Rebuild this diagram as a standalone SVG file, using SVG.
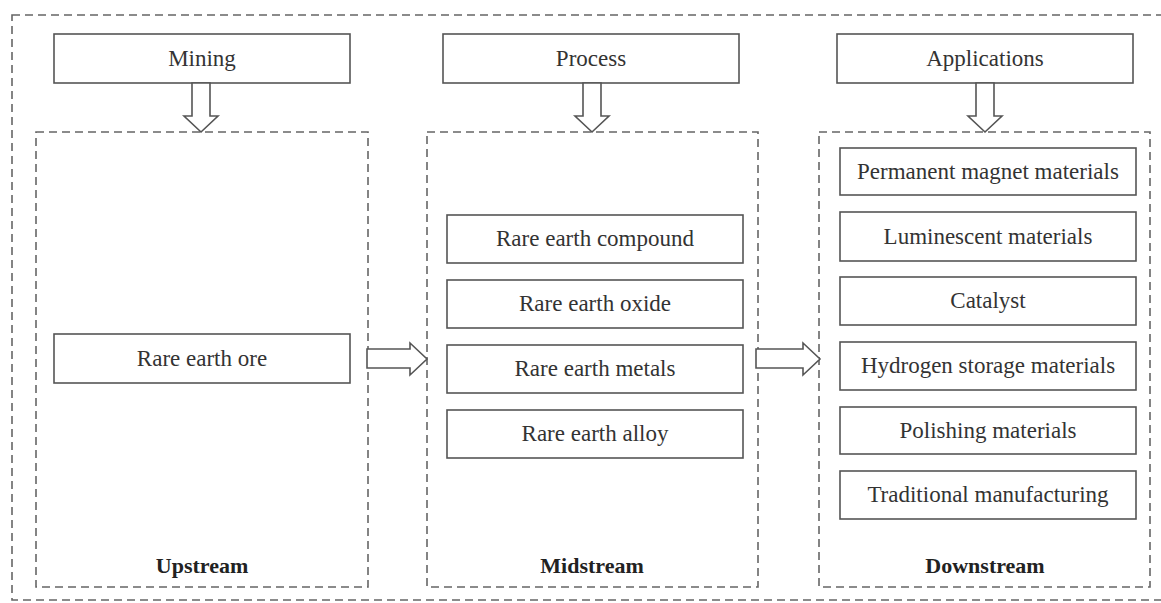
<svg xmlns="http://www.w3.org/2000/svg" width="1161" height="603" viewBox="0 0 1161 603">
<style>
.box{fill:#fff;stroke:#555;stroke-width:1.6}
.dash{fill:none;stroke:#666;stroke-width:1.6;stroke-dasharray:8 5}
.arrow{fill:#fff;stroke:#555;stroke-width:1.6;stroke-linejoin:miter}
.t{font-family:"Liberation Serif","Times New Roman",serif;font-size:23px;fill:#333;text-anchor:middle}
.b{font-family:"Liberation Serif","Times New Roman",serif;font-size:22px;font-weight:bold;fill:#222;text-anchor:middle}
</style>
<rect width="1161" height="603" fill="#fff"/>
<rect id="outer" class="dash" x="12" y="15" width="1160" height="585"/>
<g id="upstream">
<rect class="dash" x="36" y="132" width="332" height="455"/>
<text class="b" x="202" y="573">Upstream</text>
</g>
<g id="midstream">
<rect class="dash" x="427" y="132" width="331" height="455"/>
<text class="b" x="592" y="573">Midstream</text>
</g>
<g id="downstream">
<rect class="dash" x="819" y="132" width="331" height="455"/>
<text class="b" x="985" y="573">Downstream</text>
</g>
<g id="mining"><rect class="box" x="54" y="34" width="296" height="49"/><text class="t" x="202" y="65.5">Mining</text></g>
<g id="process"><rect class="box" x="443" y="34" width="296" height="49"/><text class="t" x="591" y="65.5">Process</text></g>
<g id="applications"><rect class="box" x="837" y="34" width="296" height="49"/><text class="t" x="985" y="65.5">Applications</text></g>
<g id="ore"><rect class="box" x="54" y="334" width="296" height="49"/><text class="t" x="202" y="365.5">Rare earth ore</text></g>
<g id="compound"><rect class="box" x="447" y="215" width="296" height="48"/><text class="t" x="595" y="246">Rare earth compound</text></g>
<g id="oxide"><rect class="box" x="447" y="280" width="296" height="48"/><text class="t" x="595" y="311">Rare earth oxide</text></g>
<g id="metals"><rect class="box" x="447" y="345" width="296" height="48"/><text class="t" x="595" y="376">Rare earth metals</text></g>
<g id="alloy"><rect class="box" x="447" y="410" width="296" height="48"/><text class="t" x="595" y="441">Rare earth alloy</text></g>
<g id="permanent"><rect class="box" x="840" y="148" width="296" height="47"/><text class="t" x="988" y="178.5">Permanent magnet materials</text></g>
<g id="luminescent"><rect class="box" x="840" y="212" width="296" height="49"/><text class="t" x="988" y="243.5">Luminescent materials</text></g>
<g id="catalyst"><rect class="box" x="840" y="277" width="296" height="48"/><text class="t" x="988" y="308">Catalyst</text></g>
<g id="hydrogen"><rect class="box" x="840" y="342" width="296" height="48"/><text class="t" x="988" y="373">Hydrogen storage materials</text></g>
<g id="polishing"><rect class="box" x="840" y="407" width="296" height="47"/><text class="t" x="988" y="437.5">Polishing materials</text></g>
<g id="traditional"><rect class="box" x="840" y="471" width="296" height="48"/><text class="t" x="988" y="502">Traditional manufacturing</text></g>
<g id="connectors">
<polygon class="arrow" points="192,83 210,83 210,116 218,116 201,132 184,116 192,116"/>
<polygon class="arrow" points="583,83 601,83 601,116 609,116 592,132 575,116 583,116"/>
<polygon class="arrow" points="976,83 994,83 994,116 1002,116 985,132 968,116 976,116"/>
<polygon class="arrow" points="367,349 410,349 410,343 427,359 410,375 410,368 367,368"/>
<polygon class="arrow" points="756,349 803,349 803,343 820,359 803,375 803,368 756,368"/>
</g>
</svg>
